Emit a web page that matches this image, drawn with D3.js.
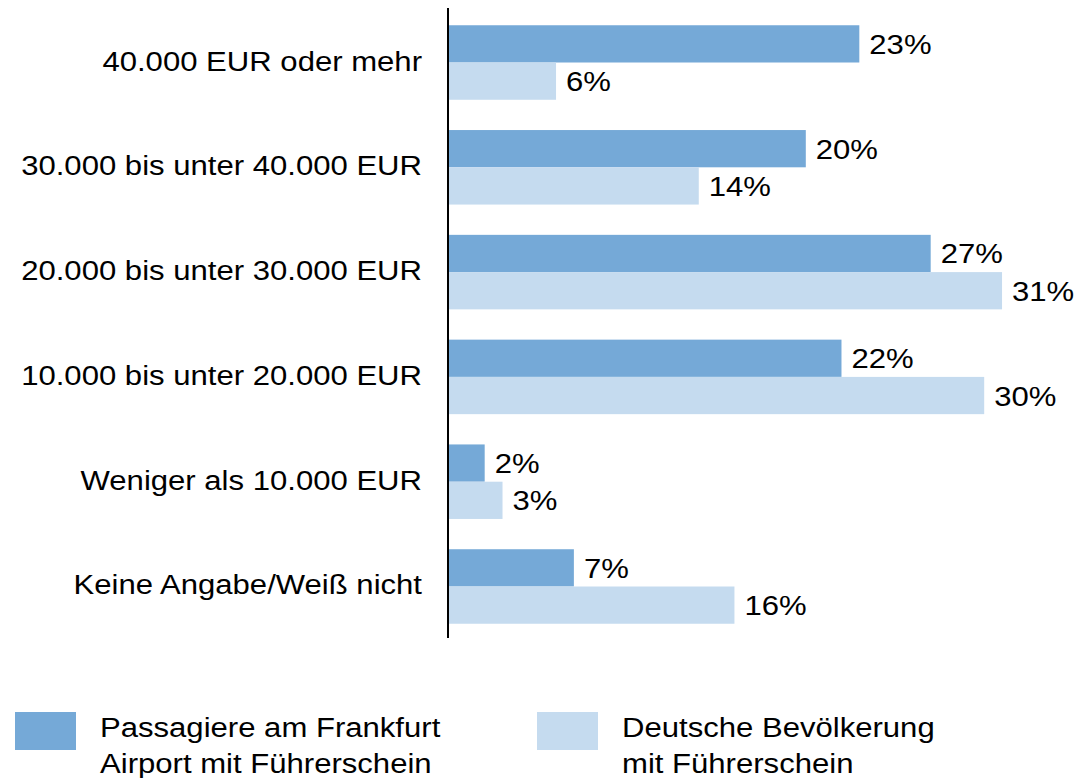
<!DOCTYPE html>
<html>
<head>
<meta charset="utf-8">
<script src="https://cdn.jsdelivr.net/npm/d3@7"></script>
<style>
  body { margin: 0; background: #fff; }
  text { font-family: "Liberation Sans", Arial, sans-serif; fill: #000; }
</style>
</head>
<body>
<div id="chart"></div>
<script>
const categories = [
  "40.000 EUR oder mehr",
  "30.000 bis unter 40.000 EUR",
  "20.000 bis unter 30.000 EUR",
  "10.000 bis unter 20.000 EUR",
  "Weniger als 10.000 EUR",
  "Keine Angabe/Weiß nicht"
];
const seriesNames = ["passagiere", "bevoelkerung"];
const passagiere = [23, 20, 27, 22, 2, 7];
const bevoelkerung = [6, 14, 31, 30, 3, 16];
const legendLabels = [
  ["Passagiere am Frankfurt", "Airport mit Führerschein"],
  ["Deutsche Bevölkerung", "mit Führerschein"]
];
const colors = ["#75a9d7", "#c5dbef"];

const width = 1092,
  height = 778,
  fontSize = 28,
  stretch = 1.11;

const svg = d3.select("#chart").append("svg")
  .attr("width", width)
  .attr("height", height);

const x = d3.scaleLinear()
  .domain([0, 35])
  .range([449, 449 + 35 * 17.84]);

const y = d3.scaleBand()
  .domain(categories)
  .range([10, 639])
  .paddingInner(0.289)
  .paddingOuter(0.1455);

const ySub = d3.scaleBand()
  .domain(seriesNames)
  .range([0, y.bandwidth()]);

const rows = categories.map((c, i) => ({
  category: c,
  values: [
    { key: seriesNames[0], value: passagiere[i], color: colors[0] },
    { key: seriesNames[1], value: bevoelkerung[i], color: colors[1] }
  ]
}));

// text is slightly wider than normal in the original, so stretch it horizontally
const addText = (parent, px, py, str, anchor) => {
  parent.append("g")
    .attr("transform", `translate(${px},${py}) scale(${stretch},1)`)
    .append("text")
    .attr("text-anchor", anchor)
    .style("font-size", fontSize + "px")
    .text(str);
};

const groups = svg.selectAll(".group")
  .data(rows)
  .enter().append("g")
  .classed("group", true)
  .attr("transform", d => `translate(0,${y(d.category)})`);

groups.selectAll("rect")
  .data(d => d.values)
  .enter().append("rect")
  .attr("x", x(0))
  .attr("y", d => ySub(d.key))
  .attr("width", d => x(d.value) - x(0))
  .attr("height", ySub.bandwidth())
  .attr("fill", d => d.color);

groups.each(function (d) {
  const g = d3.select(this);
  // category label
  addText(g, 422, y.bandwidth() / 2 + 8, d.category, "end");
  // value labels
  d.values.forEach(v => {
    addText(g, x(v.value) + 10, ySub(v.key) + ySub.bandwidth() / 2 + 10, v.value + "%", "start");
  });
});

// vertical axis line
svg.append("line")
  .attr("x1", 448)
  .attr("x2", 448)
  .attr("y1", y.range()[0] - 2)
  .attr("y2", y.range()[1] - 1)
  .attr("stroke", "#000")
  .attr("stroke-width", 2);

// legend
const legendX = [15, 537];
legendLabels.forEach((lines, i) => {
  const lg = svg.append("g").attr("transform", `translate(${legendX[i]},712)`);
  lg.append("rect")
    .attr("width", 61)
    .attr("height", 38)
    .attr("fill", colors[i]);
  lines.forEach((line, j) => {
    addText(lg, 85, 25 + j * 36, line, "start");
  });
});
</script>
</body>
</html>
